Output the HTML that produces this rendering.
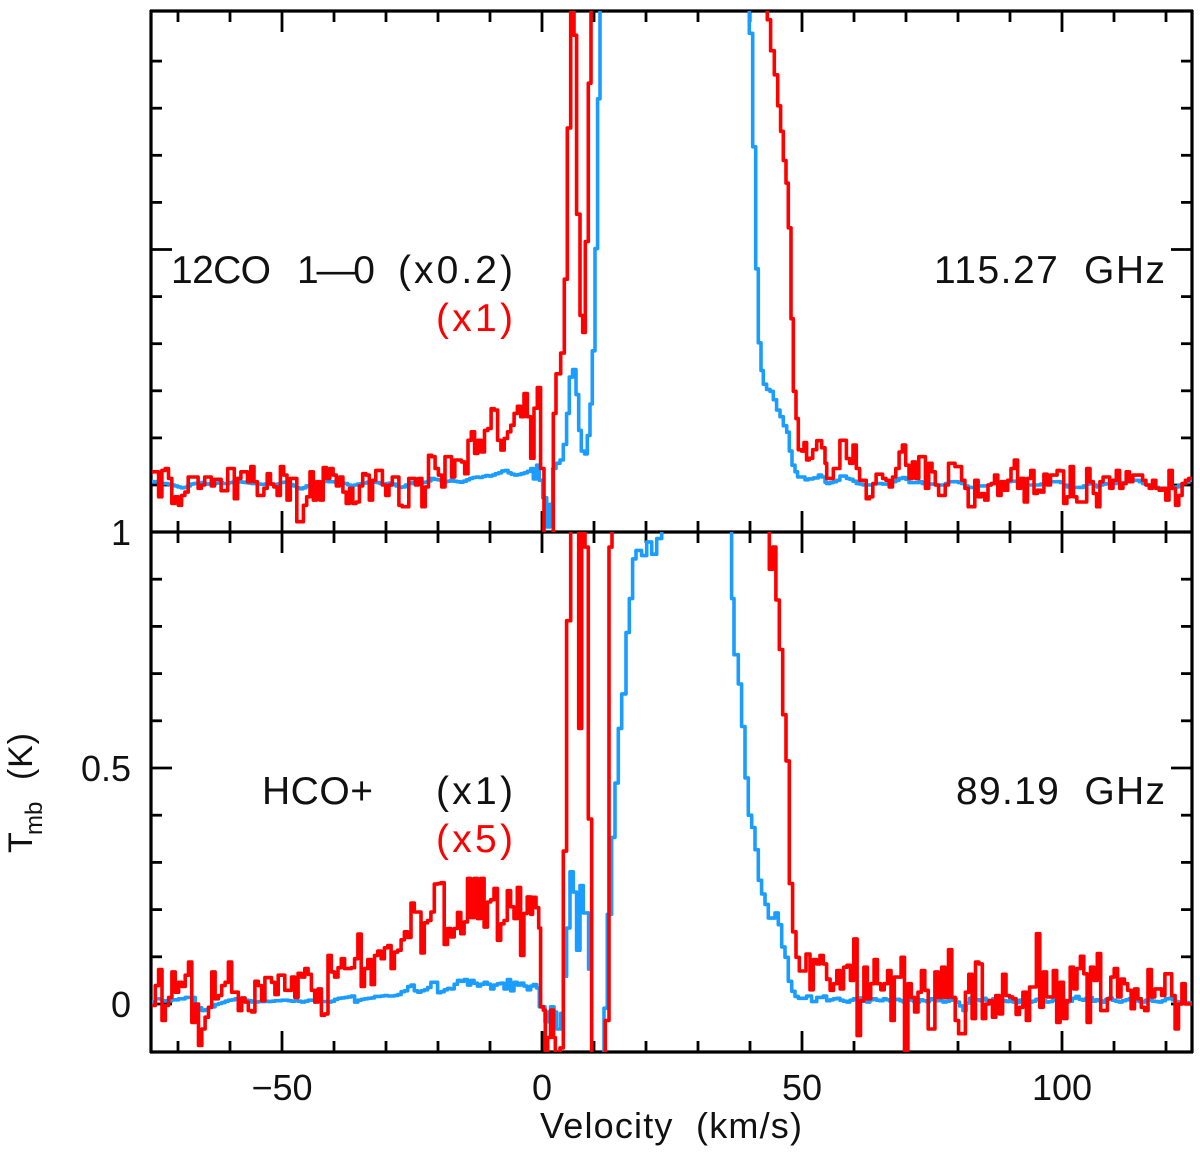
<!DOCTYPE html>
<html>
<head>
<meta charset="utf-8">
<title>Spectra</title>
<style>
html,body{margin:0;padding:0;background:#fff;}
svg{display:block;}
text{font-family:"Liberation Sans",sans-serif;fill:#111;}
.lab{font-size:39px;}
.tick{font-size:36px;}
</style>
</head>
<body>
<svg id="chart" width="1200" height="1153" viewBox="0 0 1200 1153" xmlns="http://www.w3.org/2000/svg">
  <defs>
    <clipPath id="clip-top"><rect x="151" y="11" width="1041" height="521"/></clipPath>
    <clipPath id="clip-bottom"><rect x="151" y="532" width="1041" height="520"/></clipPath>
  </defs>
  <g id="axes"></g>
  <g id="marks-top" clip-path="url(#clip-top)"></g>
  <g id="marks-bottom" clip-path="url(#clip-bottom)"></g>

  <text class="lab" x="171" y="283" textLength="100" lengthAdjust="spacing">12CO</text>
  <text class="lab" x="297" y="283" textLength="78" lengthAdjust="spacing">1—0</text>
  <text class="lab" x="398" y="283" textLength="115" lengthAdjust="spacing">(x0.2)</text>
  <text class="lab" x="436" y="331" textLength="77" lengthAdjust="spacing" style="fill:#f00">(x1)</text>
  <text class="lab" x="934" y="283" textLength="231" lengthAdjust="spacing" xml:space="preserve">115.27  GHz</text>
  <text class="lab" x="262" y="804" textLength="111" lengthAdjust="spacing">HCO+</text>
  <text class="lab" x="436" y="804" textLength="77" lengthAdjust="spacing">(x1)</text>
  <text class="lab" x="436" y="852" textLength="77" lengthAdjust="spacing" style="fill:#f00">(x5)</text>
  <text class="lab" x="956" y="804" textLength="209" lengthAdjust="spacing" xml:space="preserve">89.19  GHz</text>

  <text class="tick" x="671" y="1138" text-anchor="middle" textLength="262" lengthAdjust="spacing" xml:space="preserve">Velocity  (km/s)</text>
  <g transform="translate(32,853) rotate(-90)">
    <text x="0" y="0" style="font-size:34px">T</text>
    <text x="18" y="10" style="font-size:24px">mb</text>
    <text x="73" y="0" textLength="47" lengthAdjust="spacing" style="font-size:34px">(K)</text>
  </g>
</svg>
<script>
// Channel-by-channel temperatures in millikelvin.
const velocityMin = -75;
const velocityMax = 125;
const temperatureTop = 1000;
const channelEdgeLeft = -2.2;
const channelEdgeRight = 54.75;

const xTickValues = [-50, 0, 50, 100];
const xTickLabels = ["\u221250", "0", "50", "100"];
const yTickValues = [1000, 500, 0];
const yTickLabels = ["1", "0.5", "0"];

// 12CO, red trace (x1)
const coRedLeft = [22,22,-31,25,29,8,-45,-31,-49,-28,-21,11,11,11,-13,-6,11,11,-8,6,6,-18,-18,29,29,-35,8,22,22,1,33,1,-28,-28,-13,18,-4,-10,-28,33,15,-38,8,8,-84,-84,-49,-31,22,-38,1,-38,31,8,29,15,-8,11,-21,-45,-13,-45,-42,-8,18,15,-38,4,25,25,-6,-28,-6,11,11,-49,-52,-52,8,8,-6,8,-52,-10,57,54,29,15,-10,54,54,11,47,47,43,18,89,107,61,89,64,110,114,156,153,89,68,93,107,121,146,161,139,188,139];
const coRedCoreV = [-2.18,-1.54,-0.90,-0.26,0.38,2.18,2.69,3.59,4.29,4.87,5.51,6.15,6.66,7.31,7.82,8.33,8.91,9.42,43.33,43.97,44.68,45.32,45.89,46.41,46.92,47.37,47.88,48.33,48.84,49.29,49.93,50.38,50.89,51.41,52.05,52.82,53.78,54.42];
const coRedCoreT = [51,157,201,29,-130,146,230,274,431,752,1300,949,569,354,318,511,847,1300,982,916,865,799,745,683,635,540,347,193,135,69,66,84,47,51,69,88,73,40];
const coRedRight = [8,8,29,29,89,89,50,40,79,29,4,4,-35,-31,-3,17,17,8,4,-10,11,29,64,79,36,8,43,8,54,54,-13,40,22,-6,-28,-28,-6,40,40,33,33,4,-13,-52,-52,4,-31,-24,-38,-6,-3,15,-28,1,-17,4,29,47,-13,8,-42,8,25,-24,-17,-21,17,-6,15,15,25,24,-45,-31,33,-31,-42,-42,-42,29,1,-24,-52,1,11,11,-13,4,25,-13,-3,22,1,15,15,15,4,-6,-13,4,-13,-17,-13,-38,25,-13,-49,-28,-3,4,8];

// 12CO, blue trace (x0.2)
const coBlueLeft = [1,1,0,-3,-3,-4,-6,-8,-10,-12,-11,-8,-4,-3,-2,-1,-3,-4,-3,-3,-2,-1,-3,-3,-1,0,0,1,0,-1,-2,-3,-3,-4,-5,-4,-3,-4,-5,-4,-1,0,-2,-5,-8,-12,-14,-12,-8,-6,-3,-1,0,1,2,1,1,0,-1,-2,-3,-6,-8,-6,-4,-3,-2,0,1,0,-1,-3,-4,-3,-2,-4,-8,-11,-10,-6,-3,-1,-1,-1,-1,0,3,8,6,5,3,1,2,4,2,1,0,2,5,8,10,11,10,12,14,13,15,18,20,24,25,20,17,15,16,18,20,23];
const coBlueCoreV = [-2.18,-1.67,-1.03,-0.51,0.13,0.90,1.54,2.05,2.69,3.46,4.10,4.74,5.25,5.89,6.54,7.05,7.56,8.20,8.72,9.23,9.68,10.19,10.70,11.15,39.87,40.51,41.09,41.60,42.11,42.56,43.20,43.84,44.48,45.12,45.77,46.41,47.05,47.56,48.07,48.65,49.16,49.93,50.57,51.21,52.18,53.14,53.78,54.42];
const coBlueCoreT = [29,7,36,4,-33,-95,-47,29,40,47,80,146,223,239,186,110,66,60,99,166,279,496,814,1300,953,712,453,296,237,208,197,193,175,153,139,120,106,66,36,22,11,11,5,7,9,15,11,0];
const coBlueRight = [-3,-1,1,4,13,13,8,6,2,-3,-4,-6,-6,-6,-4,-3,-3,-4,-4,-3,1,4,8,10,6,-1,-1,-1,1,-3,-6,-4,-4,-6,-6,-6,-3,1,1,1,-1,-3,-8,-11,-11,-8,-8,-8,-8,-6,-3,-3,-3,-1,1,1,2,2,-1,-4,-6,-6,-6,-6,-6,-4,-4,-1,1,1,1,-1,-6,-10,-10,-11,-11,-11,-8,-4,-3,-6,-10,-6,-4,-3,-3,-3,-1,-1,-1,1,2,4,4,1,-3,-6,-6,-10,-11,-13,-13,-13,-13,-11,-10,-6,-3,1,4];

// HCO+, red trace (x5)
const hcoRedLeft = [-3,39,73,-35,-3,14,68,25,46,37,61,89,-39,0,-88,-53,-28,-7,68,11,18,39,46,89,25,25,-14,13,4,-14,-17,48,39,7,56,56,46,20,61,61,29,29,57,14,65,57,75,63,29,4,32,-24,-21,103,68,57,77,96,75,75,77,96,148,37,75,94,41,103,112,96,119,124,75,110,114,136,153,141,214,195,195,108,172,177,195,254,255,257,126,160,142,160,194,149,174,266,183,266,181,266,163,216,221,245,135,170,177,240,206,181,247,103,192,227];
const hcoRedCoreV = [-2.18,-1.80,-1.16,-0.64,-0.26,0.25,0.64,1.09,1.66,2.24,2.56,3.46,4.10,4.74,5.51,7.05,7.63,8.27,8.91,9.55,12.18,12.88,13.46,43.71,44.35,44.99,45.64,46.28,46.92,47.56,48.20,48.84,49.48,50.76,51.53,52.17,52.82,53.46,54.10,54.74];
const hcoRedCoreT = [190,226,204,161,-6,-13,-105,-71,-13,-71,-110,-93,324,812,1300,584,1300,968,392,-130,-35,968,1300,921,968,856,751,613,515,255,153,99,70,106,30,94,85,103,85,52];
const hcoRedRight = [53,29,43,71,32,78,82,50,138,-67,7,78,11,43,94,43,30,43,71,-35,57,57,99,-99,43,14,-17,25,71,29,-53,-53,68,14,78,14,115,14,-35,-63,-63,25,63,-31,89,85,-31,0,7,-28,18,-21,63,18,15,11,-22,-7,25,-35,36,36,149,-7,68,15,15,71,-39,46,-31,7,78,32,75,101,64,-39,78,50,107,-14,-14,11,57,75,15,53,43,29,-10,32,11,-7,-14,73,15,32,32,18,64,64,18,-53,0,43,0,0];

// HCO+, blue trace (x1)
const hcoBlueLeft = [4,11,11,7,7,7,9,9,11,11,14,14,14,-4,-8,-14,-12,-7,-6,-1,1,3,6,8,9,11,11,10,8,7,4,4,5,5,6,5,6,7,7,8,8,7,6,7,6,4,6,8,8,7,6,5,5,4,6,10,12,13,14,15,17,4,8,10,11,12,13,16,16,17,18,17,17,18,20,26,28,37,40,28,25,28,30,35,46,46,24,26,30,33,32,42,50,48,52,40,50,44,38,42,46,42,32,40,43,44,32,52,28,46,40,44,38,30];
const hcoBlueCoreV = [-2.18,-1.67,-1.03,-0.51,0.13,0.57,1.22,1.66,2.31,2.82,3.59,4.10,4.74,5.38,6.02,6.66,7.31,7.95,8.97,9.55,11.92,12.56,13.39,14.04,14.68,15.32,16.15,16.79,17.43,18.07,19.16,20.13,21.09,22.05,23.01,36.47,36.92,37.75,38.39,39.03,39.68,40.32,40.96,41.60,42.24,42.88,43.52,44.80,45.45,46.09,46.73,47.37,48.01,48.65,49.29,50.89,51.85,52.82,54.10,54.74];
const hcoBlueCoreT = [38,41,34,-6,-6,-38,-17,-6,-17,-53,-20,59,161,280,237,114,251,193,74,-130,-9,190,353,468,584,657,787,859,943,961,950,979,953,986,1300,859,740,678,588,479,400,374,327,262,233,211,182,193,168,121,99,48,27,16,12,17,5,14,17,9];
const hcoBlueRight = [7,9,11,12,8,6,4,8,11,9,13,6,4,9,11,8,7,11,9,6,9,10,7,4,8,9,6,4,9,7,5,11,9,7,12,4,6,8,11,4,-4,-14,2,12,11,9,7,12,8,5,11,13,9,7,5,9,4,3,8,11,8,4,6,10,12,7,4,5,8,13,9,7,4,6,12,16,10,8,12,14,6,9,7,4,10,13,8,6,4,7,9,11,13,7,5,4,8,11,6,5,4,7,11,12,9,5,0,1,3,2];

const svgNS = "http://www.w3.org/2000/svg";
const xPx = v => 152 + (v - velocityMin) * 5.2;
const yTopPx = t => 485 - t * 0.471;
const yBottomPx = t => 1004 - t * 0.472;
const coBaseline = 6;

function channels(left, coreV, coreT, right) {
  const out = [];
  const leftStep = (channelEdgeLeft - velocityMin) / left.length;
  left.forEach((t, i) => out.push([velocityMin + i * leftStep, t]));
  coreT.forEach((t, i) => out.push([coreV[i], t]));
  const rightStep = (velocityMax - channelEdgeRight) / right.length;
  right.forEach((t, i) => out.push([channelEdgeRight + i * rightStep, t]));
  return out;
}

function stepPath(list, yPx) {
  let d = "";
  list.forEach((c, i) => {
    const end = i + 1 < list.length ? list[i + 1][0] : velocityMax;
    const y = yPx(c[1]).toFixed(1);
    d += (i === 0 ? "M" : "L") + xPx(c[0]).toFixed(1) + " " + y + "L" + xPx(end).toFixed(1) + " " + y;
  });
  return d;
}

function drawTrace(groupId, d, color, name) {
  const p = document.createElementNS(svgNS, "path");
  p.setAttribute("d", d);
  p.setAttribute("fill", "none");
  p.setAttribute("stroke", color);
  p.setAttribute("stroke-width", "3.6");
  p.setAttribute("stroke-linejoin", "round");
  
  
  document.getElementById(groupId).appendChild(p);
}

const yTopShifted = t => yTopPx(t + coBaseline);
drawTrace("marks-top", stepPath(channels(coBlueLeft, coBlueCoreV, coBlueCoreT, coBlueRight), yTopShifted), "#1b9dff", "co-blue-spectrum");
drawTrace("marks-top", stepPath(channels(coRedLeft, coRedCoreV, coRedCoreT, coRedRight), yTopShifted), "#ff0000", "co-red-spectrum");
drawTrace("marks-bottom", stepPath(channels(hcoBlueLeft, hcoBlueCoreV, hcoBlueCoreT, hcoBlueRight), yBottomPx), "#1b9dff", "hco-blue-spectrum");
drawTrace("marks-bottom", stepPath(channels(hcoRedLeft, hcoRedCoreV, hcoRedCoreT, hcoRedRight), yBottomPx), "#ff0000", "hco-red-spectrum");

const axes = document.getElementById("axes");
function seg(x1, y1, x2, y2, width, name) {
  const l = document.createElementNS(svgNS, "line");
  l.setAttribute("x1", x1);
  l.setAttribute("y1", y1);
  l.setAttribute("x2", x2);
  l.setAttribute("y2", y2);
  l.setAttribute("stroke", "#000");
  l.setAttribute("stroke-width", width);
  
  
  axes.appendChild(l);
}

seg(150, 11, 1193, 11, 3.2, "top-frame-line");
seg(150, 532, 1193, 532, 3.2, "middle-frame-line");
seg(150, 1052, 1193, 1052, 3.2, "bottom-frame-line");
seg(151, 10, 151, 1053, 3.2, "left-frame-line");
seg(1192, 10, 1192, 1053, 3.2, "right-frame-line");

for (let v = -70; v <= 120; v += 10) {
  const x = xPx(v);
  const len = v % 50 === 0 ? 21 : 11;
  seg(x, 11, x, 11 + len, 2.8, "x-tick-top");
  seg(x, 532 - len, x, 532 + len, 2.8, "x-tick-middle");
  seg(x, 1052 - len, x, 1052, 2.8, "x-tick-bottom");
}

for (let k = -1; k <= 10; k++) {
  const t = k * 100;
  const len = k % 5 === 0 ? 21 : 11;
  [yTopPx(t), yBottomPx(t)].forEach(y => {
    if (y > 20 && y < 1045 && Math.abs(y - 532) > 2) {
      seg(151, y, 151 + len, y, 2.8, "y-tick-left");
      seg(1192 - len, y, 1192, y, 2.8, "y-tick-right");
    }
  });
}

xTickValues.forEach((v, i) => {
  const t = document.createElementNS(svgNS, "text");
  t.setAttribute("class", "tick");
  t.setAttribute("x", xPx(v));
  t.setAttribute("y", 1100);
  t.setAttribute("text-anchor", "middle");
  t.textContent = xTickLabels[i];
  
  
  axes.appendChild(t);
});

yTickValues.forEach((v, i) => {
  const t = document.createElementNS(svgNS, "text");
  t.setAttribute("class", "tick");
  t.setAttribute("x", 131);
  t.setAttribute("y", yBottomPx(v) + 13);
  t.setAttribute("text-anchor", "end");
  t.textContent = yTickLabels[i];
  
  
  axes.appendChild(t);
});
</script>
</body>
</html>
